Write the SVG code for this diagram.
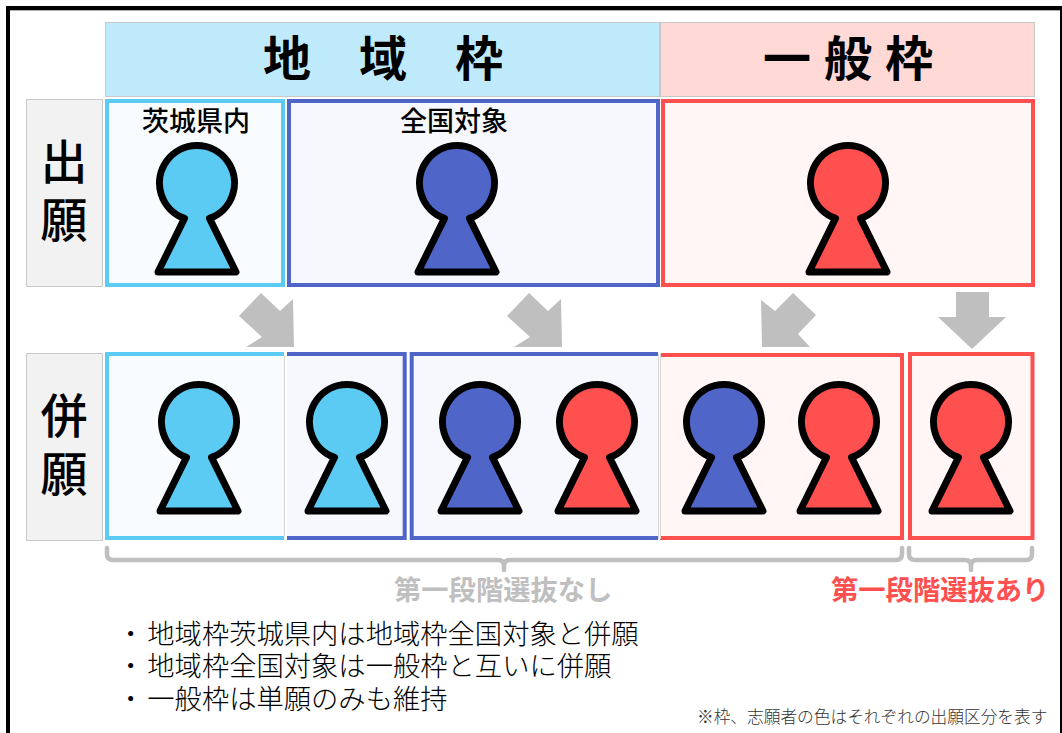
<svg xmlns="http://www.w3.org/2000/svg" width="1062" height="733" viewBox="0 0 1062 733">
<style>
text{font-family:"Noto Sans CJK JP","Noto Sans CJK SC",sans-serif;fill:#000}
.hd{font-size:48px;font-weight:700;text-anchor:middle}
.side{font-size:47px;font-weight:500;text-anchor:middle}
.sub{font-size:27px;font-weight:500;text-anchor:middle}
.note{font-size:27.300px;font-weight:300}
.stage{font-size:27.300px;font-weight:700}
.lab{stroke:#c8c8c8;stroke-width:1;fill:#f2f2f2}
.arrow{fill:#bfbfbf}
.brace{fill:none;stroke:#bfbfbf;stroke-width:4.500;stroke-linecap:round;stroke-linejoin:round}
.p{stroke:#000;stroke-width:7;stroke-linejoin:round}
.c{fill:#5ccbf4}.n{fill:#4f66c8}.r{fill:#ff5050}
.edge{stroke:#d4d4d4;stroke-width:1;fill:none}
</style>
<defs>
<path id="person" d="M-12.500 35.400A37.500 37.500 0 1 1 12.500 35.400L39 89H-39Z"/>
</defs>
<rect width="1062" height="733" fill="#fff"/>
<path d="M6 733V6H1062V10H10V733Z" fill="#000"/>
<rect x="1060" y="6" width="2" height="727" fill="#000"/>
<rect x="10" y="10" width="1050" height="1" fill="#b0b0b0"/>
<g id="header-chiiki"><rect x="105.500" y="22.500" width="554" height="74" fill="#bfeafb" stroke="#c8c8c8"/><text class="hd" x="383" y="76" xml:space="preserve">地　域　枠</text></g>
<g id="header-ippan"><rect x="660.500" y="22.500" width="374" height="74" fill="#ffd9d6" stroke="#c8c8c8"/><text class="hd" x="848" y="76" xml:space="preserve" word-spacing="2">一 般 枠</text></g>
<g id="label-shutsugan"><rect class="lab" x="26.500" y="99.500" width="76" height="187"/><text class="side" x="64" y="179">出</text><text class="side" x="64" y="237">願</text></g>
<g id="label-heigan"><rect class="lab" x="26.500" y="353.500" width="76" height="187"/><text class="side" x="64" y="433">併</text><text class="side" x="64" y="491">願</text></g>
<g id="app-ibaraki"><rect x="107" y="101" width="176" height="184" fill="#f9fcff" stroke="#5ccbf4" stroke-width="4"/><text class="sub" x="196" y="131">茨城県内</text><use href="#person" class="p c" x="197" y="183"/></g>
<g id="app-zenkoku"><rect x="289" y="101" width="369" height="184" fill="#f7f8fd" stroke="#4f66c8" stroke-width="4"/><text class="sub" x="454" y="131">全国対象</text><use href="#person" class="p n" x="457" y="183"/></g>
<g id="app-ippan"><rect x="663" y="101" width="370" height="184" fill="#fff6f5" stroke="#ff5050" stroke-width="4"/><use href="#person" class="p r" x="848" y="183"/></g>
<g id="com-ibaraki-a"><rect x="107" y="354" width="177" height="184" fill="#f9fcff"/><path d="M284 354H107V538H284" fill="none" stroke="#5ccbf4" stroke-width="4"/><path class="edge" d="M284.500 356V536"/><use href="#person" class="p c" x="199" y="422"/></g>
<g id="com-ibaraki-b"><rect x="287" y="354" width="118" height="184" fill="#f7f8fd"/><path d="M287 354H404.700V538H287" fill="none" stroke="#4f66c8" stroke-width="4"/><use href="#person" class="p c" x="347" y="422"/></g>
<g id="com-zenkoku"><rect x="411.700" y="354" width="246" height="184" fill="#f7f8fd"/><path d="M658 354H411.700V538H658" fill="none" stroke="#4f66c8" stroke-width="4"/><path class="edge" d="M658.500 354V539"/><use href="#person" class="p n" x="480" y="422"/><use href="#person" class="p r" x="597" y="422"/></g>
<g id="com-ippan-a"><rect x="660" y="355" width="242" height="183" fill="#fff6f5"/><path d="M660 355H902V538H660" fill="none" stroke="#ff5050" stroke-width="4"/><path class="edge" d="M660.500 353V539"/><use href="#person" class="p n" x="724" y="422"/><use href="#person" class="p r" x="839" y="422"/></g>
<g id="com-ippan-b"><rect x="910" y="354" width="122.500" height="184" fill="#fff6f5" stroke="#ff5050" stroke-width="4"/><use href="#person" class="p r" x="971" y="422"/></g>
<g id="connectors">
<path class="arrow" d="M261 293L239 316L262 337L246 347H294L293 299L280 311Z"/>
<path class="arrow" d="M529 293L507 316L530 337L514 347H562L561 299L548 311Z"/>
<path class="arrow" d="M793 293L816 315L798 334L810 347H762L761 300L775 311Z"/>
<path class="arrow" d="M956 292H989V317H1006L972 349L938 317H956Z"/>
<path class="brace" d="M107 548V554Q107 560 113 560H498Q504 560 504 566V570M504 566Q504 560 510 560H896Q902 560 902 554V548"/>
<path class="brace" d="M909 548V554Q909 560 915 560H965Q971 560 971 566V570M971 566Q971 560 977 560H1026Q1032 560 1032 554V548"/>
</g>
<text class="stage" x="394" y="600" style="fill:#bfbfbf">第一段階選抜なし</text>
<text class="stage" x="831" y="600" style="fill:#ff5050">第一段階選抜あり</text>
<text class="note" x="117" y="644">・<tspan dx="3">地域枠茨城県内は地域枠全国対象と併願</tspan></text>
<text class="note" x="117" y="676">・<tspan dx="3">地域枠全国対象は一般枠と互いに併願</tspan></text>
<text class="note" x="117" y="709">・<tspan dx="3">一般枠は単願のみも維持</tspan></text>
<text x="697" y="723" style="font-size:16.700px;font-weight:300;fill:#333">※枠、志願者の色はそれぞれの出願区分を表す</text>
</svg>
